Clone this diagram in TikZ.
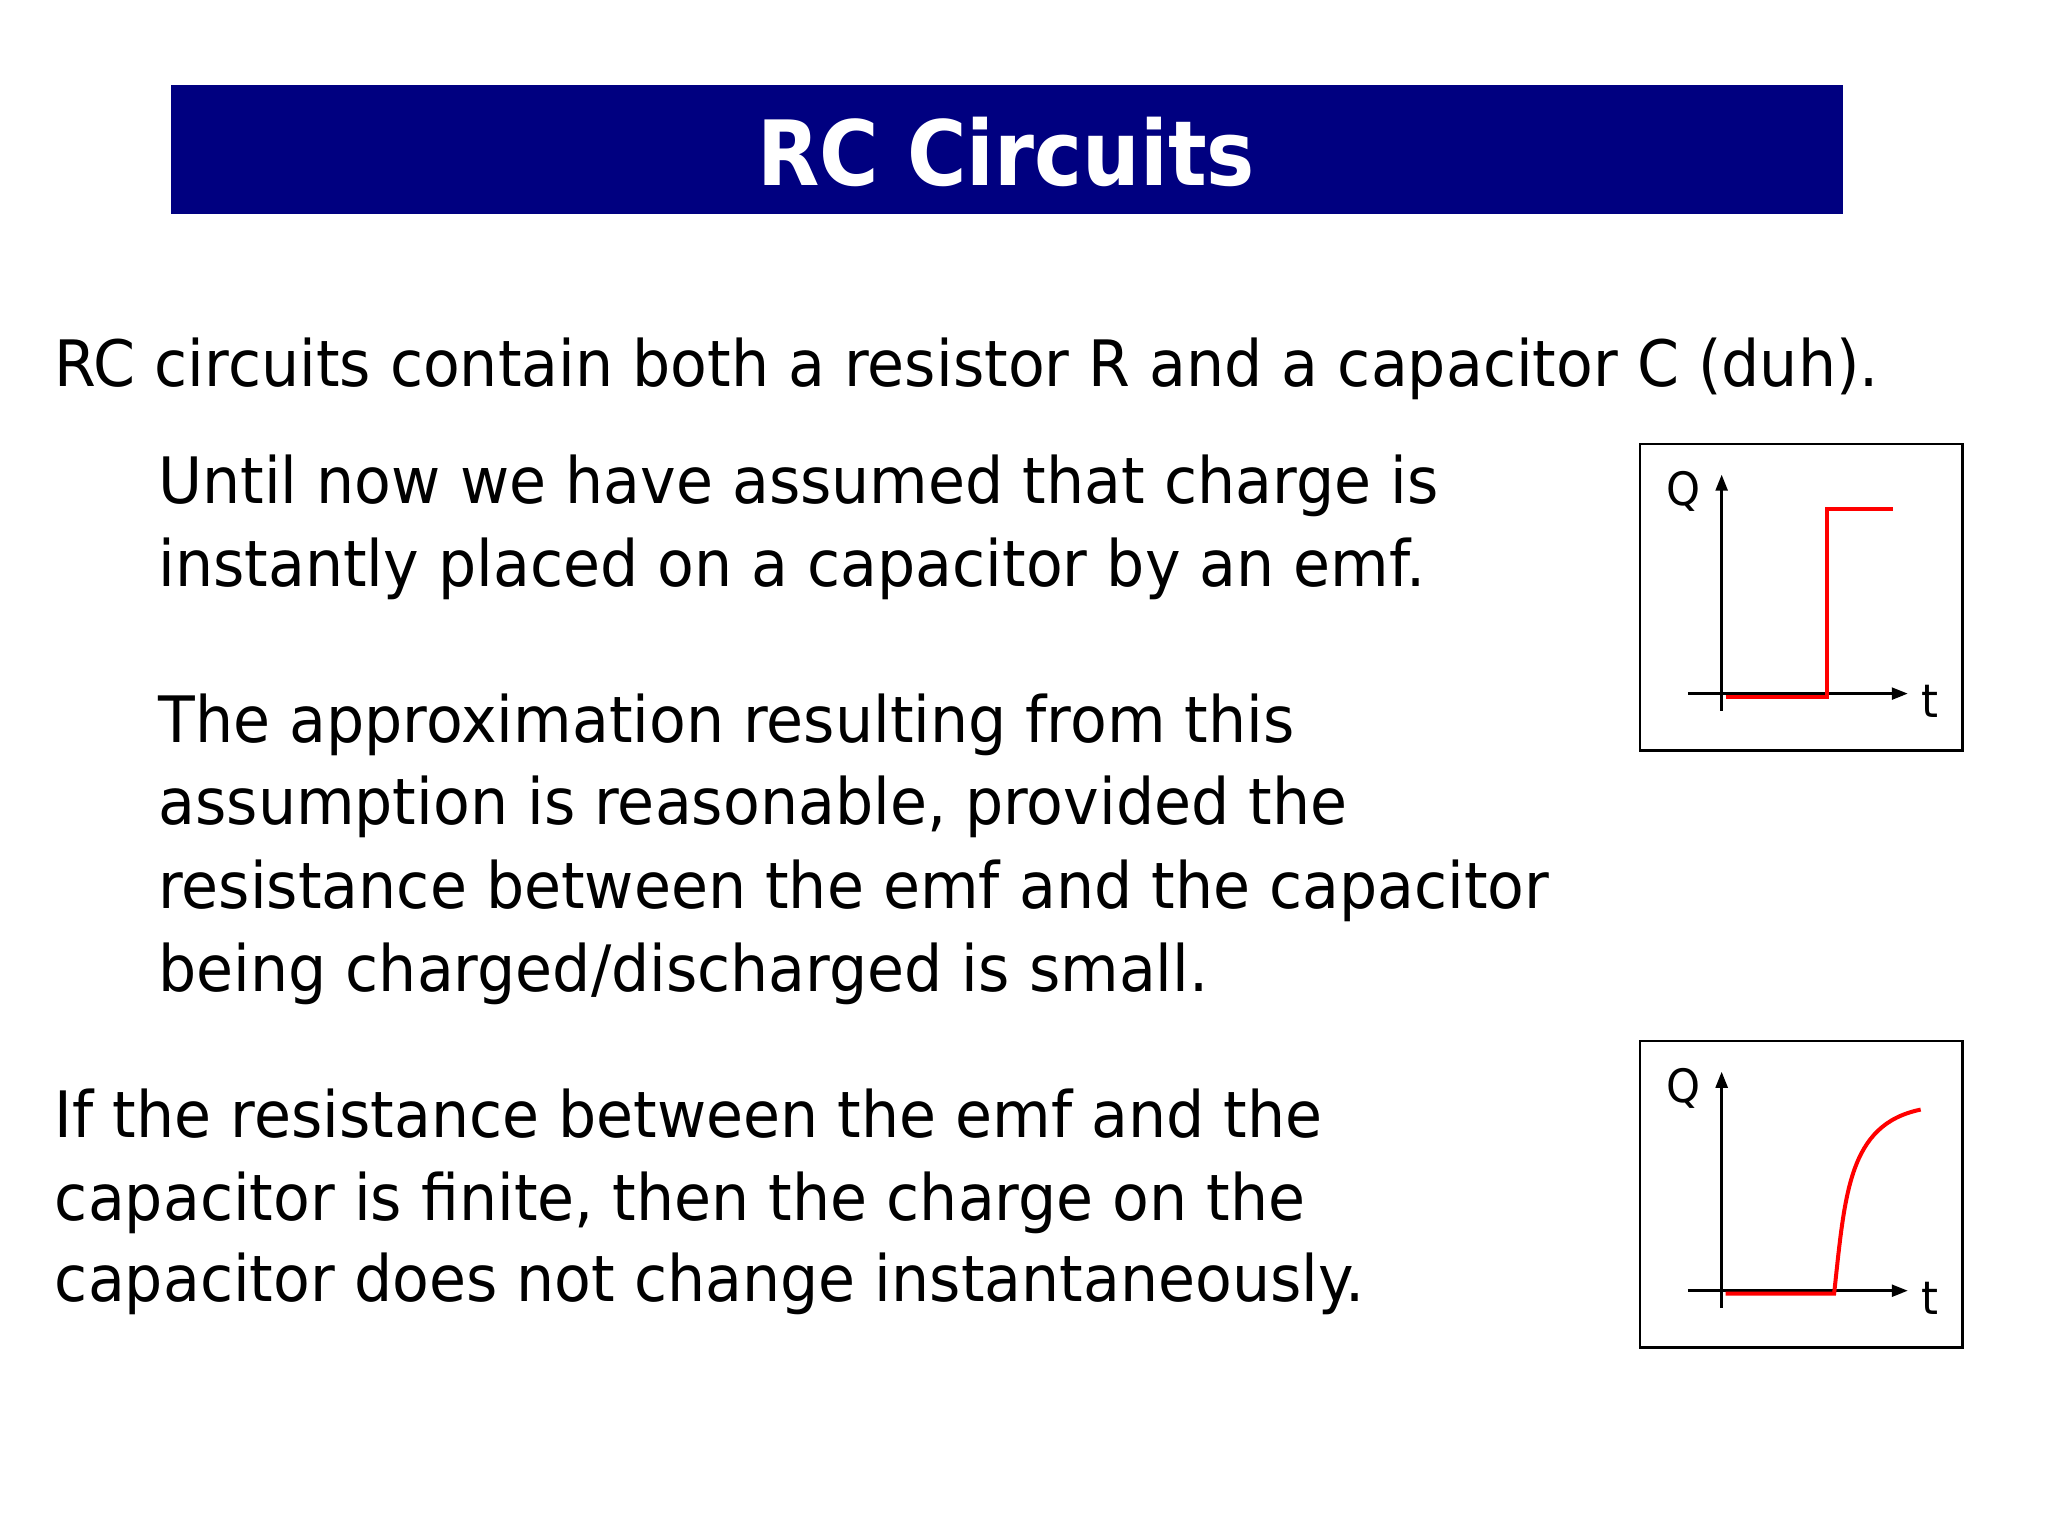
\documentclass[tikz,border=0pt]{standalone}
\usepackage{fontspec}
\setmainfont{DejaVu Sans}[FakeStretch=0.94]
\newfontfamily\titlefont{DejaVu Sans}[FakeStretch=0.9]
\usetikzlibrary{arrows.meta}
\definecolor{navy}{RGB}{0,0,128}
\begin{document}
\begin{tikzpicture}[x=0.995pt,y=-0.995pt,
  body/.style={anchor=base west,inner sep=0pt,font=\fontsize{64}{80}\selectfont},
  ax/.style={line width=2.5pt,-{Triangle[length=16pt,width=12pt]}},
  frame/.style={draw=black,line width=2.5pt},
  curve/.style={draw=red,line width=4pt},
  lab/.style={inner sep=0pt,font=\fontsize{46}{46}\selectfont}]
\useasboundingbox (0,0) rectangle (2058,1543);
\fill[navy] (172,85) rectangle (1852,215);
\node[inner sep=0pt,text=white,font=\titlefont\bfseries\fontsize{90}{90}\selectfont] (title) at (1011,153) {RC Circuits};
\node[body] (l1) at (55,388) {RC circuits contain both a resistor R and a capacitor C (duh).};
\node[body] (p2a) at (159,506) {Until now we have assumed that charge is};
\node[body] (p2b) at (159,589) {instantly placed on a capacitor by an emf.};
\node[body] (p3a) at (159,746) {The approximation resulting from this};
\node[body] (p3b) at (159,829) {assumption is reasonable, provided the};
\node[body] (p3c) at (159,913) {resistance between the emf and the capacitor};
\node[body] (p3d) at (159,996) {being charged/discharged is small.};
\node[body] (p4a) at (55,1143) {If the resistance between the emf and the};
\node[body] (p4b) at (55,1226) {capacitor is finite, then the charge on the};
\node[body] (p4c) at (55,1308) {capacitor does not change instantaneously.};
% graph 1
\draw[frame] (1648,446) rectangle (1972,754);
\begin{scope}[xshift=9pt]
\draw[ax] (1721,714) -- (1721,477);
\draw[ax] (1687,697) -- (1908,697);
\draw[curve] (1725,700) -- (1827,700) -- (1827,511) -- (1893,511);
\node[lab] (q1) at (1683,494) {Q};
\node[lab] (t1) at (1930,705) {t};
\end{scope}
% graph 2
\begin{scope}[yshift=-597pt]
\draw[frame] (1648,446) rectangle (1972,754);
\begin{scope}[xshift=9pt]
\draw[ax] (1721,714) -- (1721,477);
\draw[ax] (1687,697) -- (1908,697);
\draw[curve] (1725,700) -- (1834,700) .. controls (1845,600) and (1848,530) .. (1921,515);
\node[lab] (q2) at (1683,494) {Q};
\node[lab] (t2) at (1930,705) {t};
\end{scope}
\end{scope}
\end{tikzpicture}
\end{document}
